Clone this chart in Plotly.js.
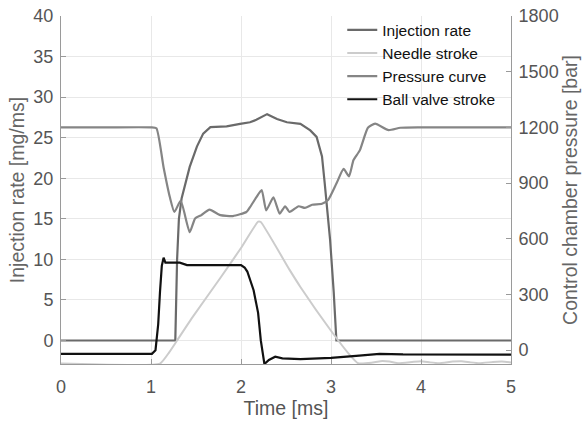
<!DOCTYPE html>
<html>
<head>
<meta charset="utf-8">
<script src="https://cdn.plot.ly/plotly-3.0.1.min.js"></script>
<style>html,body{margin:0;padding:0;background:#fff;}#chart{width:587px;height:423px;}</style>
</head>
<body>
<div id="chart"></div>
<script>
// Injection rate [mg/ms]
const rateTime = [0, 1.27, 1.29, 1.31, 1.34, 1.38, 1.43, 1.51, 1.58, 1.66, 1.84, 1.99, 2.1, 2.17, 2.29, 2.4, 2.51, 2.66, 2.77, 2.84, 2.9, 2.93, 2.96, 2.99, 3.03, 3.06, 5];
const rateValue = [0, 0, 10, 15, 17.5, 19.4, 21.4, 23.9, 25.5, 26.3, 26.4, 26.7, 26.9, 27.2, 27.9, 27.3, 26.9, 26.7, 25.9, 25.1, 22.7, 19.4, 16.1, 12.4, 6, 0, 0];

// Needle stroke (plotted on left axis scale)
const needleTime = [0, 1.1, 1.2, 1.29, 1.45, 1.77, 2.0, 2.19, 2.22, 2.54, 2.66, 3.0, 3.21, 3.3, 3.45, 3.55, 3.65, 3.75, 3.9, 4.0, 4.1, 4.2, 4.35, 4.45, 4.55, 4.65, 4.8, 4.9, 5.0];
const needleValue = [-2.85, -2.85, -1.5, 0, 2.7, 7.7, 11.4, 14.65, 14.6, 8.7, 6.6, 1.2, -1.8, -2.8, -2.75, -2.55, -2.6, -2.8, -2.65, -2.55, -2.7, -2.8, -2.6, -2.55, -2.7, -2.8, -2.65, -2.6, -2.7];

// Control chamber pressure [bar]
const pressTime = [0, 0.5, 1.0, 1.06, 1.14, 1.21, 1.26, 1.33, 1.43, 1.49, 1.56, 1.65, 1.77, 1.91, 2.06, 2.1, 2.17, 2.23, 2.28, 2.36, 2.43, 2.49, 2.54, 2.64, 2.71, 2.79, 2.9, 2.97, 3.06, 3.14, 3.2, 3.25, 3.32, 3.41, 3.49, 3.64, 3.77, 4.0, 4.5, 5];
const pressValue = [1200, 1200, 1200, 1195, 984, 823, 744, 805, 635, 709, 727, 757, 727, 722, 744, 770, 823, 862, 753, 823, 735, 775, 744, 775, 766, 783, 788, 810, 897, 976, 936, 1024, 1076, 1198, 1220, 1185, 1198, 1200, 1200, 1200];

// Ball valve stroke (plotted on left axis scale)
const ballTime = [0, 1.01, 1.05, 1.08, 1.1, 1.12, 1.14, 1.16, 1.32, 1.4, 2.0, 2.04, 2.07, 2.14, 2.19, 2.22, 2.26, 2.31, 2.38, 2.46, 2.66, 3.0, 3.28, 3.54, 3.8, 5];
const ballValue = [-1.65, -1.65, -1.2, 2, 6, 9.2, 10.2, 9.6, 9.6, 9.3, 9.3, 9.0, 8.5, 6.2, 3.4, 0, -2.9, -2.4, -2.0, -2.2, -2.3, -2.15, -1.9, -1.65, -1.72, -1.75];

const xTicks = [0, 1, 2, 3, 4, 5];
const leftTicks = [0, 5, 10, 15, 20, 25, 30, 35, 40];
const rightTicks = [0, 300, 600, 900, 1200, 1500, 1800];

const font = "'Liberation Sans', Arial, sans-serif";

const traces = [
  {x: rateTime, y: rateValue, name: "Injection rate", mode: "lines",
   line: {color: "#6a6a6a", width: 2.2}},
  {x: needleTime, y: needleValue, name: "Needle stroke", mode: "lines",
   line: {color: "#cccccc", width: 2, shape: "spline", smoothing: 0.4}},
  {x: pressTime, y: pressValue, name: "Pressure curve", mode: "lines", yaxis: "y2",
   line: {color: "#858585", width: 2.2, shape: "spline", smoothing: 0.5}},
  {x: ballTime, y: ballValue, name: "Ball valve stroke", mode: "lines", yaxis: "y3",
   line: {color: "#111111", width: 2.2}}
];

const axisCommon = {
  showline: true, linecolor: "#9a9a9a", linewidth: 1,
  ticks: "inside", ticklen: 5, tickcolor: "#9a9a9a",
  tickfont: {family: font, size: 18, color: "#555555"},
  zeroline: false
};

const layout = {
  width: 587, height: 423,
  margin: {l: 61, r: 76, t: 16, b: 59},
  paper_bgcolor: "#ffffff", plot_bgcolor: "#ffffff",
  font: {family: font},
  showlegend: true,
  legend: {x: 0.625, y: 1.008, xanchor: "left", yanchor: "top", bgcolor: "rgba(255,255,255,0)",
           font: {family: font, size: 15.5, color: "#111111"}, itemwidth: 30},
  xaxis: Object.assign({}, axisCommon, {
    range: [0, 5], tickvals: xTicks, showgrid: true, gridcolor: "#e8e8e8",
    ticklabelstandoff: 6,
    title: {text: "Time [ms]", font: {family: font, size: 19.5, color: "#555555"}, standoff: 5}
  }),
  yaxis: Object.assign({}, axisCommon, {
    range: [-2.9, 40], tickvals: leftTicks, showgrid: true, gridcolor: "#e8e8e8",
    ticklabelstandoff: 3,
    title: {text: "Injection rate [mg/ms]", font: {family: font, size: 19.5, color: "#666666"}, standoff: 3}
  }),
  yaxis2: Object.assign({}, axisCommon, {
    range: [-75, 1800], tickvals: rightTicks, overlaying: "y", side: "right", showgrid: false,
    ticklabelstandoff: 3,
    title: {text: "Control chamber pressure [bar]", font: {family: font, size: 19.5, color: "#666666"}, standoff: 4}
  }),
  yaxis3: {range: [-2.9, 40], overlaying: "y", visible: false, showgrid: false, zeroline: false}
};

Plotly.newPlot("chart", traces, layout, {staticPlot: true, displayModeBar: false});
</script>
</body>
</html>
